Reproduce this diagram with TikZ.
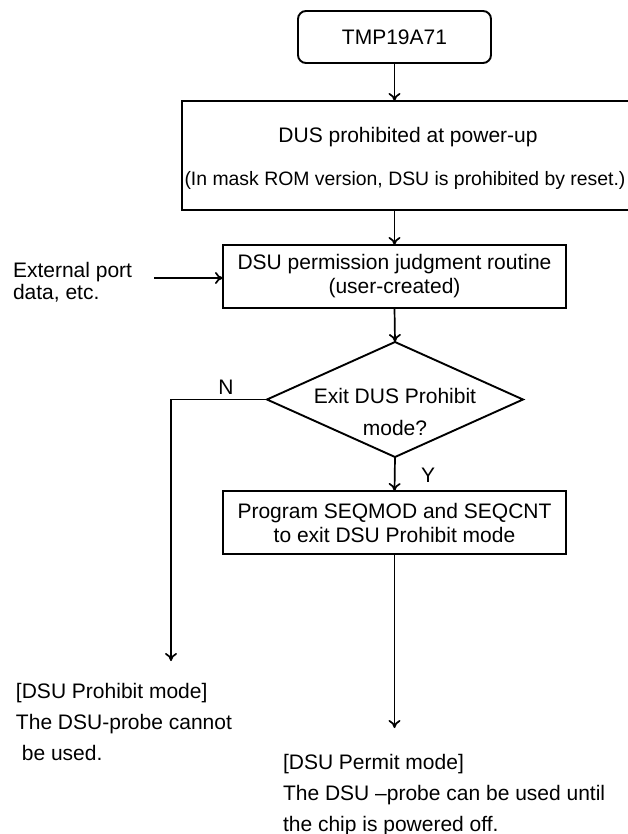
\documentclass[tikz,border=0pt]{standalone}
\usepackage{fontspec}
\setmainfont{Liberation Sans}
\usetikzlibrary{arrows.meta,shapes.geometric}
\begin{document}
\begin{tikzpicture}[x=1pt,y=-1pt,
  every node/.style={font=\fontsize{21}{24}\selectfont, inner sep=0pt, outer sep=0pt},
  box/.style={draw, line width=1.9pt, rectangle},
  arr/.style={-{To[length=8pt,width=12pt]}, line width=1.7pt}]
\useasboundingbox (0,0) rectangle (628,834);
\clip (0,0) rectangle (628,834);
% top terminal
\node[box, rounded corners=8pt, minimum width=193, minimum height=52] (tmp) at (394.5,37) {TMP19A71};
% power-up box
\node[box, minimum width=452, minimum height=109] (dus) at (408,155.5) {};
\node (dus1) at (408,137) {DUS prohibited at power-up};
\node[font=\fontsize{19.4}{24}\selectfont] (dus2) at (405,180) {(In mask ROM version, DSU is prohibited by reset.)};
% judgment routine
\node[box, minimum width=343, minimum height=63, align=center] (perm) at (394.5,276.5) {DSU permission judgment routine\\(user-created)};
\node[anchor=base west, align=left, font=\fontsize{21}{22}\selectfont] (ext) at (13,299) {External port\\data, etc.};
\coordinate (extend) at (154,278);
% decision
\node[draw, diamond, line width=1.9pt, minimum width=256, minimum height=115] (dia) at (395,399.5) {};
\node[align=center, font=\fontsize{21}{32}\selectfont] (diat) at (395,412) {Exit DUS Prohibit\\mode?};
\node (nlab) at (226,387) {N};
\node (ylab) at (428,475) {Y};
% program box
\node[box, minimum width=343, minimum height=63, align=center] (prog) at (394.5,522.5) {Program SEQMOD and SEQCNT\\to exit DSU Prohibit mode};
% end texts
\node[anchor=base west, align=left, font=\fontsize{21}{31}\selectfont] (proh) at (16,760) {[DSU Prohibit mode]\\The DSU-probe cannot\\\hspace*{0.28em}be used.};
\node[anchor=base west, align=left, font=\fontsize{21}{31}\selectfont] (permit) at (283,831) {[DSU Permit mode]\\The DSU –probe can be used until\\the chip is powered off.};
\coordinate (nend) at (171,661);
\coordinate (yend) at (394.5,728);
% connectors
\draw[arr] (tmp.south) -- (tmp.south |- dus.north);
\draw[arr] (394.5,210) -- (perm.north);
\draw[arr] (extend) -- (extend -| perm.west);
\draw[arr] (perm.south) -- (dia.north);
\draw[arr] (dia.south) -- (prog.north);
\draw[arr] (dia.west) -| (nend);
\draw[arr] (prog.south) -- (yend);
\end{tikzpicture}
\end{document}
